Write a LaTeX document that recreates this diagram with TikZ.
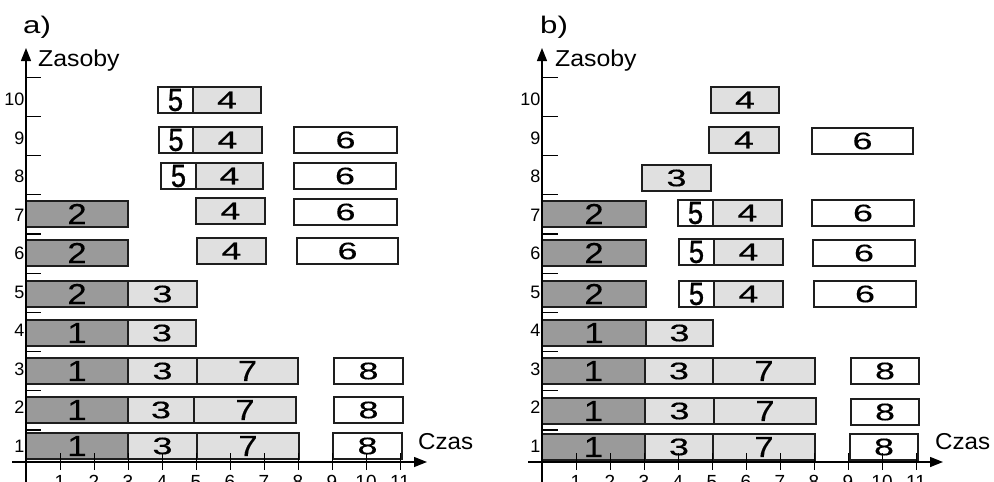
\documentclass[tikz,border=0pt]{standalone}
\usepackage{fontspec}
\usepackage{graphicx}
\setmainfont{Liberation Sans}
\newfontfamily\boxfont[FakeBold=0.2]{Liberation Sans}
\newfontfamily\heavyfont[FakeBold=1]{Liberation Sans}
\usetikzlibrary{arrows.meta}

\definecolor{boxline}{HTML}{1E1E1E}
\definecolor{darkfill}{HTML}{9A9A9A}
\definecolor{lightfill}{HTML}{E0E0E0}

% digit styles used inside the task boxes
\newcommand\bigd[1]{\scalebox{1.2}[1]{\boxfont\fontsize{29}{29}\selectfont #1}}
\newcommand\widd[1]{\scalebox{1.5}[1]{\boxfont\fontsize{24}{24}\selectfont #1}}
\newcommand\talld[1]{\scalebox{0.85}[1]{\heavyfont\fontsize{32}{32}\selectfont #1}}
% headings, slightly widened
\newcommand\widetext[2]{\scalebox{#1}[1]{#2}}

% one task box: name, style, left x, right x, top y, label
\newcommand\job[6]{%
  \pgfmathsetmacro\jw{#4-#3}%
  \pgfmathsetmacro\jc{(#3+#4)/2}%
  \node[#2, minimum width=\jw pt] (#1) at (\jc, #5+13) {#6};}

\begin{document}
\begin{tikzpicture}[x=1pt,y=-1pt,
  taskbox/.style={draw=boxline, line width=1.5pt, inner sep=0pt,
                  minimum height=26pt, rectangle},
  dk/.style={taskbox, fill=darkfill},
  lt/.style={taskbox, fill=lightfill},
  wt/.style={taskbox, fill=white},
  axis/.style={line width=1.4pt, -{Triangle[length=13pt,width=10pt]}},
  ytick/.style={line width=1.2pt},
  xtick/.style={line width=1pt},
  rowlbl/.style={anchor=east, inner sep=0.5pt, font=\fontsize{18}{18}\selectfont},
  collbl/.style={anchor=base, inner sep=0pt, font=\fontsize{19}{19}\selectfont},
  title/.style={anchor=base west, inner sep=0pt, font=\fontsize{23}{23}\selectfont}]
\useasboundingbox (0,0) rectangle (994,482);
\begin{scope}
\clip (0,0) rectangle (994,482);

% ---------- panel a ----------
\foreach \nm/\st/\xa/\xb/\tp/\tx in {
  a1x1/dk/26/128/433/\bigd{1}, a1x3/lt/128/197/433/\widd{3}, a1x7/lt/197/299/433/\bigd{7}, a1x8/wt/333/402/433/\widd{8},
  a2x1/dk/26/128/397/\bigd{1}, a2x3/lt/128/194/397/\widd{3}, a2x7/lt/194/296/397/\bigd{7}, a2x8/wt/334/403/397/\widd{8},
  a3x1/dk/26/128/358/\bigd{1}, a3x3/lt/128/197/358/\widd{3}, a3x7/lt/197/298/358/\bigd{7}, a3x8/wt/334/403/358/\widd{8},
  a4x1/dk/26/128/320/\bigd{1}, a4x3/lt/128/196/320/\widd{3},
  a5x2/dk/26/128/281/\bigd{2}, a5x3/lt/128/197/281/\widd{3},
  a6x2/dk/26/128/240/\bigd{2}, a6x4/lt/197/266/238/\widd{4}, a6x6/wt/297/398/238/\widd{6},
  a7x2/dk/26/128/201/\bigd{2}, a7x4/lt/196/265/198/\widd{4}, a7x6/wt/294/397/199/\widd{6},
  a8x5/wt/161/196/163/\talld{5}, a8x4/lt/196/263/163/\widd{4}, a8x6/wt/294/396/163/\widd{6},
  a9x5/wt/159/193/127/\talld{5}, a9x4/lt/193/262/127/\widd{4}, a9x6/wt/294/397/127/\widd{6},
  a10x5/wt/158/193/87/\talld{5}, a10x4/lt/193/261/87/\widd{4}}
  {\job{\nm}{\st}{\xa}{\xb}{\tp}{\tx}}

% resource ticks and labels
\foreach \k in {1,...,10} {
  \pgfmathsetmacro\ty{430-(\k-1)*39.2}
  \coordinate (atl\k) at (26,\ty);
  \coordinate (atr\k) at (41,\ty);
  \draw[ytick] (atl\k) -- (atr\k);
  \pgfmathsetmacro\ry{446-(\k-1)*38.5}
  \node[rowlbl] (ar\k) at (25,\ry) {\k};
}
% time ticks and labels
\foreach \t in {1,...,11} {
  \pgfmathsetmacro\tx{26+\t*34}
  \coordinate (atu\t) at (\tx,453);
  \coordinate (atd\t) at (\tx,470);
  \draw[xtick] (atu\t) -- (atd\t);
  \node[collbl] (ac\t) at (\tx,488) {\t};
}
\coordinate (axs) at (12,462);
\coordinate (axe) at (427,462);
\coordinate (ays) at (26,482);
\coordinate (aye) at (26,48);
\draw[axis] (axs) -- (axe);
\draw[axis] (ays) -- (aye);
\node[title] (atitle) at (23,33) {\widetext{1.3}{\fontsize{24}{24}\selectfont a)}};
\node[title] (ares) at (38,66) {\widetext{1.08}{Zasoby}};
\node[title] (atime) at (418,449) {\widetext{1.05}{Czas}};

% ---------- panel b ----------
\foreach \nm/\st/\xa/\xb/\tp/\tx in {
  b1x1/dk/542/645/434/\bigd{1}, b1x3/lt/645/713/434/\widd{3}, b1x7/lt/713/815/434/\bigd{7}, b1x8/wt/850/918/434/\widd{8},
  b2x1/dk/542/645/398/\bigd{1}, b2x3/lt/645/714/398/\widd{3}, b2x7/lt/714/816/398/\bigd{7}, b2x8/wt/851/919/399/\widd{8},
  b3x1/dk/542/645/358/\bigd{1}, b3x3/lt/645/713/358/\widd{3}, b3x7/lt/713/815/358/\bigd{7}, b3x8/wt/851/919/358/\widd{8},
  b4x1/dk/542/646/320/\bigd{1}, b4x3/lt/646/713/320/\widd{3},
  b5x2/dk/542/646/281/\bigd{2}, b5x5/wt/679/714/281/\talld{5}, b5x4/lt/714/783/281/\widd{4}, b5x6/wt/814/916/281/\widd{6},
  b6x2/dk/542/646/240/\bigd{2}, b6x5/wt/679/714/239/\talld{5}, b6x4/lt/714/783/239/\widd{4}, b6x6/wt/813/915/240/\widd{6},
  b7x2/dk/542/646/201/\bigd{2}, b7x5/wt/678/713/200/\talld{5}, b7x4/lt/713/782/200/\widd{4}, b7x6/wt/812/914/200/\widd{6},
  b8x3/lt/642/711/165/\widd{3},
  b9x4/lt/709/779/127/\widd{4}, b9x6/wt/812/913/128/\widd{6},
  b10x4/lt/711/779/87/\widd{4}}
  {\job{\nm}{\st}{\xa}{\xb}{\tp}{\tx}}

\foreach \k in {1,...,10} {
  \pgfmathsetmacro\ty{430-(\k-1)*39.2}
  \coordinate (btl\k) at (542,\ty);
  \coordinate (btr\k) at (558,\ty);
  \draw[ytick] (btl\k) -- (btr\k);
  \pgfmathsetmacro\ry{446-(\k-1)*38.5}
  \node[rowlbl] (br\k) at (541,\ry) {\k};
}
\foreach \t in {1,...,11} {
  \pgfmathsetmacro\tx{542+\t*34}
  \coordinate (btu\t) at (\tx,453);
  \coordinate (btd\t) at (\tx,470);
  \draw[xtick] (btu\t) -- (btd\t);
  \node[collbl] (bc\t) at (\tx,488) {\t};
}
\coordinate (bxs) at (528,462);
\coordinate (bxe) at (943,462);
\coordinate (bys) at (542,482);
\coordinate (bye) at (542,48);
\draw[axis] (bxs) -- (bxe);
\draw[axis] (bys) -- (bye);
\node[title] (btitle) at (540,33) {\widetext{1.3}{\fontsize{24}{24}\selectfont b)}};
\node[title] (bres) at (555,66) {\widetext{1.08}{Zasoby}};
\node[title] (btime) at (935,449) {\widetext{1.05}{Czas}};
\end{scope}
\end{tikzpicture}
\end{document}
